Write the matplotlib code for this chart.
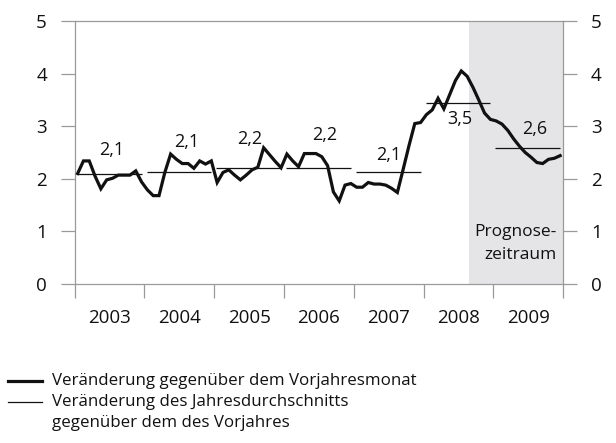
import numpy as np
import matplotlib
matplotlib.use("Agg")
import matplotlib.pyplot as plt
from matplotlib.lines import Line2D

plt.rcParams['font.family'] = ['Open Sans', 'DejaVu Sans']
plt.rcParams['font.weight'] = 'medium'

# Veränderung gegenüber dem Vorjahresmonat (monthly, 2003-2009)
years = [2003, 2004, 2005, 2006, 2007, 2008, 2009]
monthly = [
    2.10, 2.34, 2.34, 2.05, 1.81, 1.98, 2.01, 2.07, 2.07, 2.07, 2.15, 1.94,  # 2003
    1.79, 1.68, 1.68, 2.12, 2.47, 2.37, 2.29, 2.29, 2.20, 2.34, 2.28, 2.34,  # 2004
    1.93, 2.12, 2.17, 2.07, 1.98, 2.07, 2.17, 2.22, 2.59, 2.46, 2.33, 2.21,  # 2005
    2.47, 2.34, 2.23, 2.48, 2.48, 2.48, 2.42, 2.25, 1.75, 1.58, 1.88, 1.91,  # 2006
    1.84, 1.84, 1.93, 1.90, 1.90, 1.88, 1.82, 1.74, 2.18, 2.63, 3.05, 3.07,  # 2007
    3.22, 3.31, 3.53, 3.33, 3.60, 3.87, 4.05, 3.95, 3.74, 3.50, 3.25, 3.13,  # 2008
    3.10, 3.04, 2.92, 2.76, 2.62, 2.50, 2.41, 2.31, 2.29, 2.37, 2.39, 2.44,  # 2009
]
# Veränderung des Jahresdurchschnitts
yearly_avg = [2.10, 2.12, 2.20, 2.21, 2.12, 3.45, 2.59]
avg_labels = ["2,1", "2,1", "2,2", "2,2", "2,1", "3,5", "2,6"]
forecast_start = 2008 + 7.8 / 12

x = years[0] + (np.arange(len(monthly)) + 0.5) / 12

fig = plt.figure(figsize=(6.16, 4.43), dpi=100)
ax = fig.add_axes([0.1213, 0.3589, 0.7927, 0.5937])

grey = "#9a9a9a"
txt = "#111111"

ax.axvspan(forecast_start, years[-1] + 1, color="#e5e5e7", lw=0, zorder=0)

for yr, v in zip(years, yearly_avg):
    ax.hlines(v, yr + 0.03, yr + 0.96, color=txt, lw=0.9, zorder=2)

ax.plot(x, monthly, color=txt, lw=2.3, solid_joinstyle="miter", zorder=3)

# labels of yearly averages (baseline positions)
lab_dx = [0.03, 0.1, 0.01, 0.08, 0.0, 0.02, 0.1]
lab_y = [2.45, 2.61, 2.67, 2.74, 2.36, 3.04, 2.86]
for yr, s, dx, ly in zip(years, avg_labels, lab_dx, lab_y):
    ax.text(yr + 0.5 + dx, ly, s, ha="center", va="baseline", fontsize=13, color=txt)

ax.text(years[-1] + 0.91, 0.77, "Prognose-\nzeitraum", ha="right", va="center",
        fontsize=12.5, color=txt, linespacing=1.55)

ax.set_xlim(years[0], years[-1] + 1)
ax.set_ylim(0, 5)
ax.set_xticks(np.arange(years[0], years[-1] + 2))
ax.set_xticklabels([])
ax.set_xticks(np.array(years) + 0.5, minor=True)
ax.set_xticklabels([str(y) for y in years], minor=True)
ax.set_yticks(range(0, 6))
ax.tick_params(axis="x", which="major", direction="out", length=10, width=0.9, color=grey)
ax.tick_params(axis="x", which="minor", length=0, pad=18, labelsize=13.5, labelcolor=txt)
ax.tick_params(axis="y", direction="out", length=10, width=0.9, color=grey, pad=10,
               left=True, right=True, labelleft=True, labelright=True,
               labelsize=13.5, labelcolor=txt)
for sp in ax.spines.values():
    sp.set_color(grey)
    sp.set_linewidth(0.9)

# legend drawn by hand
fig.lines.append(Line2D([8 / 616, 42 / 616], [1 - 380.7 / 443] * 2, transform=fig.transFigure,
                        color=txt, lw=2.3))
fig.lines.append(Line2D([8 / 616, 42 / 616], [1 - 401.7 / 443] * 2, transform=fig.transFigure,
                        color=txt, lw=0.9))
fig.text(52 / 616, 1 - 380.7 / 443, "Veränderung gegenüber dem Vorjahresmonat",
         ha="left", va="center", fontsize=12.2, color=txt)
fig.text(52 / 616, 1 - 401.7 / 443, "Veränderung des Jahresdurchschnitts",
         ha="left", va="center", fontsize=12.2, color=txt)
fig.text(52 / 616, 1 - 423.3 / 443, "gegenüber dem des Vorjahres",
         ha="left", va="center", fontsize=12.2, color=txt)

fig.savefig("out.png", dpi=100)
